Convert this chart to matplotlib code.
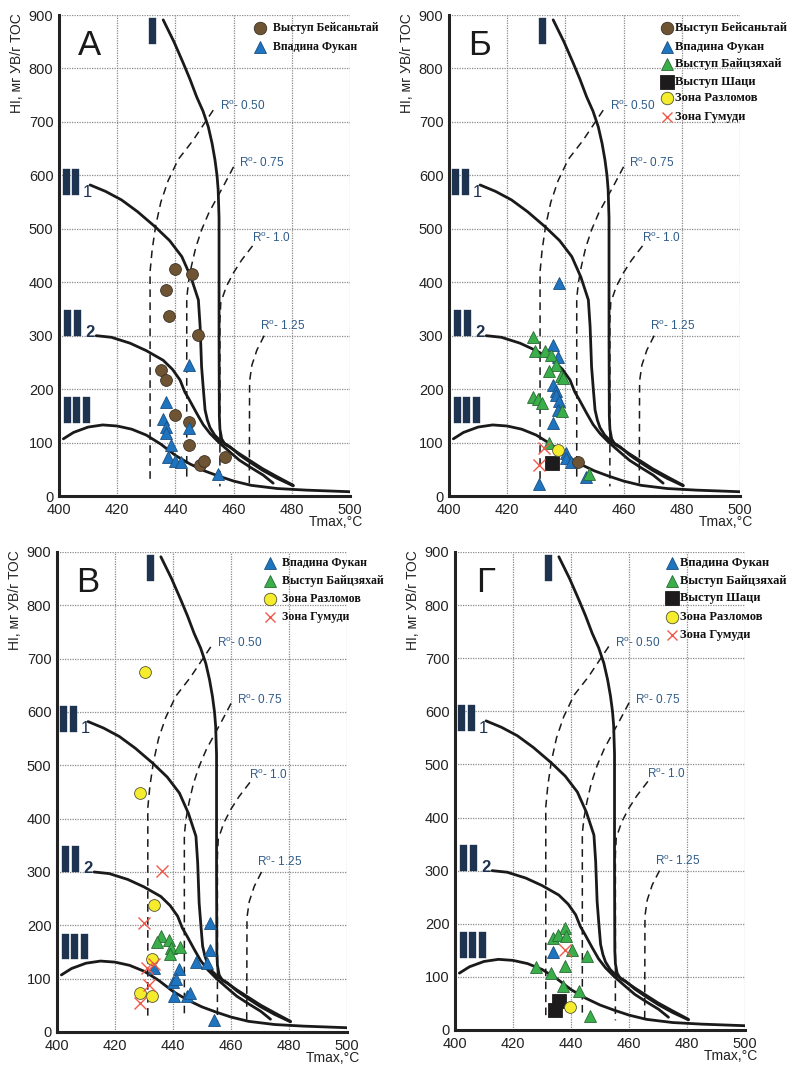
import matplotlib
matplotlib.use("Agg")
import matplotlib.pyplot as plt
import matplotlib.patheffects as pe

# ---------------- data ----------------
XTICKS = [400, 420, 440, 460, 480, 500]
YTICKS = [0, 100, 200, 300, 400, 500, 600, 700, 800, 900]

# kerogen-type reference curves (Tmax, HI)
TYPE_I_T = [435.8, 439.5, 442.7, 445.0, 447.3, 449.5, 451.3, 452.6, 453.6, 454.3, 454.7,
            455.0, 455.0, 455.0, 455.1, 455.3, 455.9, 457.0, 458.8, 462.0, 466.0, 470.0, 475.0, 480.5]
TYPE_I_HI = [891, 850, 810, 780, 747, 720, 691, 660, 629, 600, 573,
             520, 440, 300, 150, 125, 107, 97, 91, 79, 65, 51, 36, 20]
TYPE_II1_T = [410.7, 416.0, 421.5, 427.0, 433.0, 438.0, 442.2, 445.3, 447.9, 448.5, 449.0,
              449.6, 450.2, 451.0, 451.9, 453.5, 455.5, 458.8, 462.0, 466.0, 470.0, 475.0, 480.5]
TYPE_II1_HI = [582, 570, 554, 532, 504, 478, 448, 410, 367, 317, 242,
               200, 161, 142, 128, 114, 103, 92, 77, 62, 48, 33, 19]
TYPE_II2_T = [412.8, 418.0, 424.4, 430.0, 435.8, 439.0, 441.6, 443.2, 444.8, 447.3, 449.5,
              451.9, 455.0, 458.8, 462.0, 466.0, 470.2, 473.6]
TYPE_II2_HI = [300, 297, 286, 272, 254, 237, 217, 195, 180, 155, 134,
               117, 100, 82, 67, 53, 39, 24]
TYPE_III_T = [401.5, 405, 410, 415, 420, 425, 430, 435, 440, 445, 450, 455, 460, 466, 475, 485, 500]
TYPE_III_HI = [107, 119, 129, 133, 131, 125, 114, 97, 76, 60, 47, 37, 28, 20, 14, 11, 8]

# vitrinite reflectance iso-lines (Tmax, HI)
RO050_T = [453.0, 446.0, 441.0, 437.5, 435.0, 433.2, 432.0, 431.3, 431.3]
RO050_HI = [722, 665, 630, 590, 550, 505, 460, 420, 27]
RO075_T = [460.0, 457.0, 454.5, 451.5, 449.0, 447.0, 445.5, 444.5, 443.9, 443.9]
RO075_HI = [616, 585, 560, 530, 498, 465, 430, 400, 370, 27]
RO100_T = [466.5, 462.7, 460.0, 457.5, 455.6, 455.3, 455.3]
RO100_HI = [468, 441, 418, 392, 362, 330, 18]
RO125_T = [470.5, 468.0, 466.3, 465.5, 465.4]
RO125_HI = [300, 273, 245, 215, 20]
RO_LABELS = ["0.50", "0.75", "1.0", "1.25"]
RO_LABEL_T = [455.3, 462.0, 466.2, 469.0]
RO_LABEL_HI = [729, 622, 482, 318]

# Panel А
A_BEI_T = [439.8, 445.8, 436.7, 437.8, 447.6, 434.9, 436.7, 439.8, 444.7, 444.7, 448.5, 449.8, 457.0]
A_BEI_HI = [424, 416, 386, 336, 301, 235, 218, 152, 138, 95, 58, 65, 73]
A_FUK_T = [444.7, 436.9, 435.8, 436.9, 436.9, 438.6, 437.5, 439.8, 441.9, 444.7, 454.7]
A_FUK_HI = [245, 176, 144, 130, 118, 96, 73, 66, 63, 127, 41]

# Panel Б
B_FUK_T = [437.9, 435.7, 437.4, 435.9, 436.8, 436.8, 437.7, 437.4, 435.9, 431.1, 440.2, 440.2, 441.9, 447.0]
B_FUK_HI = [398, 283, 261, 208, 196, 189, 177, 161, 136, 22, 80, 71, 64, 36]
B_BAI_T = [428.8, 429.7, 433.1, 435.1, 436.8, 434.3, 438.5, 439.1, 428.8, 430.5, 432.0, 438.9, 434.3, 448.0]
B_BAI_HI = [297, 272, 272, 264, 245, 233, 224, 220, 186, 182, 174, 160, 100, 42]
B_SHA_T = [435.4]
B_SHA_HI = [61]
B_RAZ_T = [437.6]
B_RAZ_HI = [86]
B_BEI_T = [444.5]
B_BEI_HI = [63]
B_GUM_T = [432.8, 431.1]
B_GUM_HI = [89, 58]

# Panel В
V_FUK_T = [433.6, 442.0, 440.0, 441.0, 440.5, 444.8, 446.0, 448.0, 451.7, 452.6, 452.6, 454.0]
V_FUK_HI = [120, 118, 93, 100, 67, 67, 73, 132, 129, 204, 154, 23]
V_BAI_T = [435.9, 434.5, 438.5, 439.3, 439.1, 442.3]
V_BAI_HI = [180, 169, 173, 157, 146, 160]
V_RAZ_T = [430.4, 428.5, 433.6, 432.8, 428.7, 432.8]
V_RAZ_HI = [675, 449, 239, 136, 74, 68]
V_GUM_T = [436.2, 430.1, 431.0, 433.3, 431.6, 428.7]
V_GUM_HI = [302, 205, 120, 128, 88, 55]

# Panel Г
G_FUK_T = [433.9]
G_FUK_HI = [146]
G_BAI_T = [437.9, 433.9, 435.5, 438.3, 440.2, 445.6, 428.0, 437.9, 433.0, 437.1, 442.9, 446.7]
G_BAI_HI = [192, 173, 178, 176, 151, 140, 118, 120, 107, 83, 74, 26]
G_SHA_T = [435.7, 434.5]
G_SHA_HI = [54, 38]
G_RAZ_T = [439.7]
G_RAZ_HI = [43]
G_GUM_T = [437.9]
G_GUM_HI = [151]

# ---------------- styles ----------------
NAVY = "#1e3350"
ROBLUE = "#2f5b88"
STYLES = {
    "Выступ Бейсаньтай": dict(marker="o", mfc="#6e5432", mec="#3b3126", ms=8.5),
    "Впадина Фукан": dict(marker="^", mfc="#1f74bf", mec="#1b4f80", ms=8.5),
    "Выступ Байцзяхай": dict(marker="^", mfc="#3aae4a", mec="#2a6a34", ms=8.5),
    "Выступ Шаци": dict(marker="s", mfc="#1e1b1c", mec="#1e1b1c", ms=9.5),
    "Зона Разломов": dict(marker="o", mfc="#f4ec2c", mec="#555533", ms=8.5),
    "Зона Гумуди": dict(marker="x", mfc="none", mec="#f05a4a", ms=8.5),
}

plt.rcParams["font.family"] = ["Liberation Sans", "DejaVu Sans"]

fig = plt.figure(figsize=(7.92, 10.66), dpi=100)

POS = {
    "А": [0.0745, 0.5347, 0.3674, 0.4512],
    "Б": [0.5669, 0.5347, 0.3674, 0.4512],
    "В": [0.0720, 0.0319, 0.3662, 0.4503],
    "Г": [0.5745, 0.0338, 0.3662, 0.4484],
}

THICK = [pe.Stroke(linewidth=1.7, foreground=NAVY, joinstyle="miter", capstyle="butt"),
         pe.Normal()]


def roman(ax, s, x, y):
    ax.text(x, y, s, fontsize=25, fontweight="bold", color=NAVY, family="Liberation Sans",
            ha="center", va="baseline", path_effects=THICK)


def base(ax, letter):
    ax.set_xlim(400, 500)
    ax.set_ylim(0, 900)
    ax.set_xticks(XTICKS)
    ax.set_yticks(YTICKS)
    ax.tick_params(length=0, labelsize=10.5, colors="#222222")
    ax.tick_params(axis="x", pad=5)
    ax.tick_params(axis="y", pad=4)
    ax.grid(True, linestyle=(0, (1, 1)), color="#8a8a8a", linewidth=0.9)
    ax.set_axisbelow(True)
    for s in ("top", "right"):
        ax.spines[s].set_visible(False)
    for s in ("left", "bottom"):
        ax.spines[s].set_linewidth(2.2)
        ax.spines[s].set_color("#222222")
    ax.text(-0.145, 1.004, "HI, мг УВ/г ТОС", transform=ax.transAxes, rotation=90,
            ha="center", va="top", fontsize=10, color="#222222")
    ax.text(1.045, -0.054, "Tmax,°C", transform=ax.transAxes, ha="right", va="center",
            fontsize=10, color="#222222")
    # curves
    kw = dict(color="#1a1a1a", lw=2.0, solid_capstyle="round", zorder=2)
    ax.plot(TYPE_I_T, TYPE_I_HI, **kw)
    ax.plot(TYPE_II1_T, TYPE_II1_HI, **kw)
    ax.plot(TYPE_II2_T, TYPE_II2_HI, **kw)
    ax.plot(TYPE_III_T, TYPE_III_HI, **kw)
    dk = dict(color="#1a1a1a", lw=1.1, dashes=(5, 3.5), zorder=2)
    for t, h in ((RO050_T, RO050_HI), (RO075_T, RO075_HI), (RO100_T, RO100_HI), (RO125_T, RO125_HI)):
        ax.plot(t, h, **dk)
    for lab, t, h in zip(RO_LABELS, RO_LABEL_T, RO_LABEL_HI):
        ax.text(t, h, "R$^{\\mathregular{o}}$- " + lab, fontsize=8.5, color=ROBLUE,
                ha="left", va="center")
    # type labels
    roman(ax, "I", 432.3, 848)
    roman(ax, "II", 404.1, 565)
    ax.text(409.7, 560, "1", fontsize=12, color=NAVY, ha="center", va="baseline")
    roman(ax, "II", 404.6, 302)
    ax.text(410.7, 298, "2", fontsize=12, fontweight="bold", color=NAVY, ha="center", va="baseline")
    roman(ax, "III", 406.2, 138)
    ax.text(410.5, 825, letter, fontsize=25, color="#1a1a1a", ha="center", va="baseline")


def pts(ax, name, t, h, z=3):
    st = STYLES[name]
    if st["marker"] == "x":
        ax.plot(t, h, linestyle="none", marker="x", color=st["mec"], ms=st["ms"],
                mew=1.0, zorder=z, clip_on=False)
    else:
        ax.plot(t, h, linestyle="none", marker=st["marker"], mfc=st["mfc"], mec=st["mec"],
                ms=st["ms"], mew=0.6, zorder=z, clip_on=False)


def legend(ax, names, xm, xt, ys, fs):
    for n, y in zip(names, ys):
        st = STYLES[n]
        if st["marker"] == "x":
            ax.plot([xm], [y], transform=ax.transAxes, linestyle="none", marker="x",
                    color=st["mec"], ms=7.5, mew=1.0, clip_on=False)
        else:
            ax.plot([xm], [y], transform=ax.transAxes, linestyle="none", marker=st["marker"],
                    mfc=st["mfc"], mec=st["mec"], ms=st["ms"] + 0.5, mew=0.6, clip_on=False)
        ax.text(xt, y, n, transform=ax.transAxes, fontsize=fs, fontweight="bold",
                family="Liberation Serif", ha="left", va="center", color="#111111")


# Panel А
ax = fig.add_axes(POS["А"])
base(ax, "А")
pts(ax, "Выступ Бейсаньтай", A_BEI_T, A_BEI_HI)
pts(ax, "Впадина Фукан", A_FUK_T, A_FUK_HI, 4)
legend(ax, ["Выступ Бейсаньтай", "Впадина Фукан"], 0.691, 0.737, [0.973, 0.934], 8.5)

# Panel Б
ax = fig.add_axes(POS["Б"])
base(ax, "Б")
pts(ax, "Впадина Фукан", B_FUK_T, B_FUK_HI, 3)
pts(ax, "Выступ Байцзяхай", B_BAI_T, B_BAI_HI, 4)
pts(ax, "Выступ Шаци", B_SHA_T, B_SHA_HI, 5)
pts(ax, "Зона Разломов", B_RAZ_T, B_RAZ_HI, 5)
pts(ax, "Выступ Бейсаньтай", B_BEI_T, B_BEI_HI, 5)
pts(ax, "Зона Гумуди", B_GUM_T, B_GUM_HI, 6)
legend(ax, ["Выступ Бейсаньтай", "Впадина Фукан", "Выступ Байцзяхай", "Выступ Шаци",
            "Зона Разломов", "Зона Гумуди"], 0.750, 0.778,
       [0.972, 0.934, 0.899, 0.861, 0.827, 0.789], 9.0)

# Panel В
ax = fig.add_axes(POS["В"])
base(ax, "В")
pts(ax, "Выступ Байцзяхай", V_BAI_T, V_BAI_HI, 3)
pts(ax, "Впадина Фукан", V_FUK_T, V_FUK_HI, 4)
pts(ax, "Зона Разломов", V_RAZ_T, V_RAZ_HI, 5)
pts(ax, "Зона Гумуди", V_GUM_T, V_GUM_HI, 6)
legend(ax, ["Впадина Фукан", "Выступ Байцзяхай", "Зона Разломов", "Зона Гумуди"],
       0.734, 0.777, [0.976, 0.940, 0.901, 0.864], 8.6)

# Panel Г
ax = fig.add_axes(POS["Г"])
base(ax, "Г")
pts(ax, "Выступ Байцзяхай", G_BAI_T, G_BAI_HI, 3)
pts(ax, "Впадина Фукан", G_FUK_T, G_FUK_HI, 4)
pts(ax, "Зона Гумуди", G_GUM_T, G_GUM_HI, 5)
pts(ax, "Выступ Шаци", G_SHA_T, G_SHA_HI, 6)
pts(ax, "Зона Разломов", G_RAZ_T, G_RAZ_HI, 7)
legend(ax, ["Впадина Фукан", "Выступ Байцзяхай", "Выступ Шаци", "Зона Разломов", "Зона Гумуди"],
       0.747, 0.775, [0.976, 0.940, 0.904, 0.865, 0.827], 9.0)

fig.savefig("out.png", dpi=100)
